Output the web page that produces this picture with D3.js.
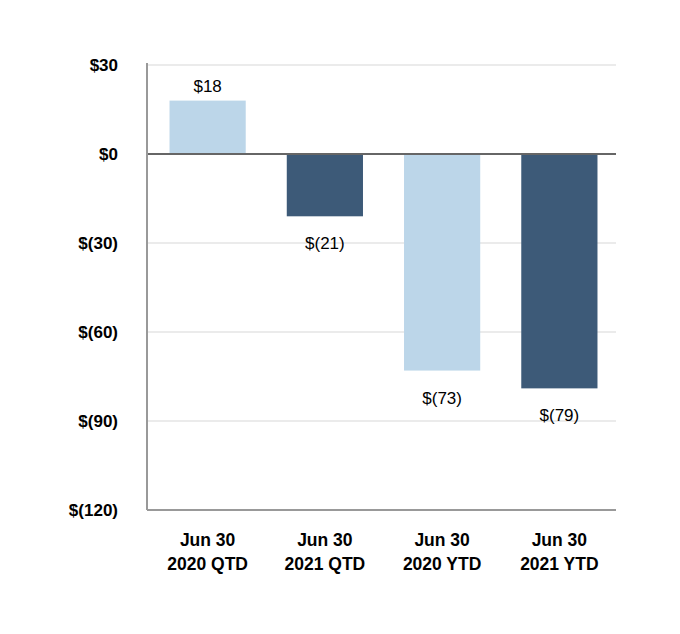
<!DOCTYPE html>
<html lang="en">
<head>
  <meta charset="UTF-8">
  <title>Bar chart</title>
  <style>
    body { margin: 0; background: #fff; }
    svg text { font-family: "Liberation Sans", Arial, sans-serif; fill: #000; }
    .ytick { font-weight: bold; font-size: 17px; }
    .xlab { font-weight: bold; font-size: 17.5px; }
    .val { font-size: 17px; }
  </style>
</head>
<body>
  <script src="https://cdn.jsdelivr.net/npm/d3@7"></script>
  <script>
    const categories = [['Jun 30', '2020 QTD'], ['Jun 30', '2021 QTD'], ['Jun 30', '2020 YTD'], ['Jun 30', '2021 YTD']];
    const values = [18, -21, -73, -79];
    const valueLabels = ['$18', '$(21)', '$(73)', '$(79)'];
    const yTicks = [30, 0, -30, -60, -90, -120];
    const yTickLabels = ['$30', '$0', '$(30)', '$(60)', '$(90)', '$(120)'];
    const colors = ['#bcd6e9', '#3d5a78', '#bcd6e9', '#3d5a78'];

    const width = 680, height = 634;
    const mLeft = 147, mRight = 616, mTop = 65, mBottom = 510;

    // bars sit a touch right of the axis in the original
    const x = d3.scaleBand().domain(d3.range(values.length)).range([mLeft + 2, mRight + 2]).paddingInner(0.35).paddingOuter(0.175);
    const y = d3.scaleLinear().domain([-120, 30]).range([mBottom, mTop]);

    const svg = d3.select('body').append('svg').attr('width', width).attr('height', height);

    // gridlines
    svg.append('g').selectAll('line').data(yTicks.filter(d => d !== 0 && d !== -120))
      .enter().append('line')
        .attr('x1', mLeft).attr('x2', mRight)
        .attr('y1', d => y(d)).attr('y2', d => y(d))
        .attr('stroke', '#e4e4e4').attr('stroke-width', 1.5);

    // y tick labels
    svg.append('g').selectAll('text').data(yTicks)
      .enter().append('text')
        .attr('class', 'ytick')
        .attr('x', 118)
        .attr('y', d => y(d) + 6)
        .attr('text-anchor', 'end')
        .text((d, i) => yTickLabels[i]);

    // bars
    svg.append('g').selectAll('rect').data(values)
      .enter().append('rect')
        .attr('x', (d, i) => x(i))
        .attr('width', x.bandwidth())
        .attr('y', d => y(Math.max(0, d)))
        .attr('height', d => Math.abs(y(d) - y(0)))
        .attr('fill', (d, i) => colors[i]);

    // zero line
    svg.append('line')
      .attr('x1', mLeft).attr('x2', mRight)
      .attr('y1', y(0)).attr('y2', y(0))
      .attr('stroke', '#666').attr('stroke-width', 2);

    // axes
    svg.append('line')
      .attr('x1', mLeft).attr('x2', mLeft).attr('y1', mTop - 2).attr('y2', mBottom)
      .attr('stroke', '#999').attr('stroke-width', 2);
    svg.append('line')
      .attr('x1', mLeft).attr('x2', mRight).attr('y1', mBottom).attr('y2', mBottom)
      .attr('stroke', '#999').attr('stroke-width', 2);

    // value labels
    svg.append('g').selectAll('text').data(values)
      .enter().append('text')
        .attr('class', 'val')
        .attr('x', (d, i) => x(i) + x.bandwidth() / 2)
        .attr('y', d => d >= 0 ? y(d) - 9 : y(d) + 33)
        .attr('text-anchor', 'middle')
        .text((d, i) => valueLabels[i]);

    // category labels
    const xl = svg.append('g').selectAll('text').data(categories)
      .enter().append('text')
        .attr('class', 'xlab')
        .attr('text-anchor', 'middle')
        .attr('x', (d, i) => x(i) + x.bandwidth() / 2)
        .attr('y', 546);
    xl.selectAll('tspan').data(d => d)
      .enter().append('tspan')
        .attr('x', function() { return this.parentNode.getAttribute('x'); })
        .attr('dy', (d, i) => i === 0 ? 0 : 24)
        .text(d => d);
  </script>
</body>
</html>
